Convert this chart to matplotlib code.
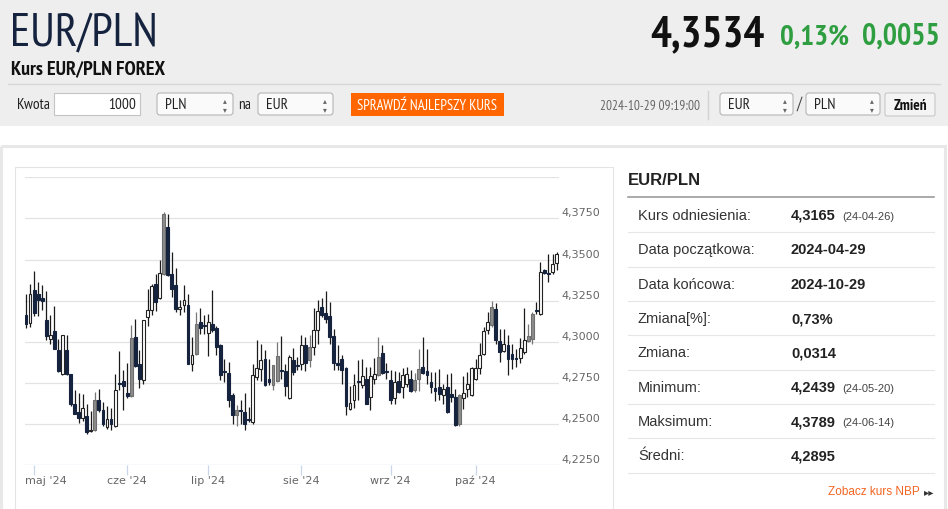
import matplotlib
matplotlib.use("Agg")
import matplotlib.pyplot as plt
import matplotlib.patches as mpatches
import matplotlib.transforms as mtrans
import numpy as np
import pandas as pd

# DATA (EUR/PLN daily candles, 2024-04-29 .. 2024-10-29)

open_ = [
    4.3164, 4.3114, 4.3316, 4.3288, 4.3268, 4.3130, 4.3015, 4.3065, 4.2948, 4.2802,
    4.2952, 4.2802, 4.2624, 4.2573, 4.2538, 4.2551, 4.2457, 4.2461, 4.2644, 4.2587,
    4.2482, 4.2532, 4.2486, 4.2751, 4.2761, 4.2688, 4.2668, 4.3029, 4.2867, 4.2769,
    4.3150, 4.3191, 4.3349, 4.3268, 4.3414, 4.3697, 4.3414, 4.3343, 4.3199, 4.3221,
    4.3225, 4.2867, 4.2927, 4.3120, 4.3100, 4.3053, 4.3106, 4.3083, 4.2978, 4.2822,
    4.2810, 4.2674, 4.2553, 4.2583, 4.2573, 4.2532, 4.2512, 4.2786, 4.2832, 4.2897,
    4.2775, 4.2735, 4.2761, 4.2826, 4.2822, 4.2660, 4.2891, 4.2857, 4.2867, 4.2978,
    4.2891, 4.2968, 4.3073, 4.3211, 4.3177, 4.3156, 4.3033, 4.2871, 4.2895, 4.2842,
    4.2591, 4.2644, 4.2761, 4.2735, 4.2775, 4.2664, 4.2775, 4.2796, 4.2932, 4.2822,
    4.2765, 4.2660, 4.2761, 4.2725, 4.2745, 4.2775, 4.2705, 4.2775, 4.2846, 4.2820,
    4.2755, 4.2719, 4.2725, 4.2674, 4.2725, 4.2680, 4.2664, 4.2502, 4.2660, 4.2715,
    4.2674, 4.2775, 4.2840, 4.2923, 4.3069, 4.3100, 4.3201, 4.3002, 4.2944, 4.2978,
    4.2923, 4.2901, 4.2903, 4.2938, 4.3004, 4.3019, 4.3195, 4.3167, 4.3438, 4.3420,
    4.3424, 4.3479,
]
high = [
    4.3292, 4.3349, 4.3430, 4.3361, 4.3345, 4.3308, 4.3164, 4.3217, 4.3019, 4.3040,
    4.3043, 4.2805, 4.2709, 4.2688, 4.2680, 4.2624, 4.2579, 4.2694, 4.2713, 4.2634,
    4.2609, 4.2599, 4.2806, 4.2942, 4.2826, 4.2871, 4.3100, 4.3136, 4.2948, 4.3134,
    4.3323, 4.3349, 4.3414, 4.3495, 4.3789, 4.3778, 4.3549, 4.3448, 4.3252, 4.3343,
    4.3292, 4.3029, 4.3181, 4.3207, 4.3160, 4.3171, 4.3312, 4.3094, 4.2988, 4.2897,
    4.2875, 4.2688, 4.2613, 4.2644, 4.2688, 4.2603, 4.2867, 4.3009, 4.2988, 4.2952,
    4.2897, 4.2861, 4.2998, 4.3035, 4.2867, 4.2917, 4.2962, 4.2907, 4.3039, 4.3029,
    4.3039, 4.3207, 4.3256, 4.3268, 4.3308, 4.3241, 4.3079, 4.2978, 4.2917, 4.2846,
    4.2729, 4.2806, 4.2887, 4.2897, 4.2846, 4.2846, 4.2903, 4.3029, 4.2978, 4.2871,
    4.2830, 4.2820, 4.2816, 4.2840, 4.2846, 4.2826, 4.2810, 4.2958, 4.3029, 4.2954,
    4.2816, 4.2816, 4.2836, 4.2745, 4.2806, 4.2812, 4.2715, 4.2680, 4.2790, 4.2816,
    4.2846, 4.2897, 4.2992, 4.3090, 4.3181, 4.3248, 4.3237, 4.3079, 4.3079, 4.3039,
    4.2988, 4.2958, 4.3023, 4.3207, 4.3110, 4.3181, 4.3241, 4.3485, 4.3444, 4.3535,
    4.3535, 4.3545,
]
low = [
    4.3085, 4.3090, 4.3154, 4.3158, 4.3191, 4.3009, 4.2988, 4.2954, 4.2816, 4.2796,
    4.2796, 4.2609, 4.2559, 4.2506, 4.2518, 4.2439, 4.2451, 4.2457, 4.2573, 4.2486,
    4.2470, 4.2466, 4.2482, 4.2705, 4.2587, 4.2660, 4.2664, 4.2846, 4.2719, 4.2745,
    4.3094, 4.3160, 4.3187, 4.3262, 4.3404, 4.3397, 4.3272, 4.3181, 4.3164, 4.3181,
    4.2863, 4.2822, 4.2917, 4.3045, 4.3049, 4.2911, 4.3059, 4.2917, 4.2769, 4.2755,
    4.2603, 4.2502, 4.2486, 4.2502, 4.2461, 4.2512, 4.2502, 4.2765, 4.2761, 4.2733,
    4.2735, 4.2709, 4.2755, 4.2775, 4.2668, 4.2654, 4.2796, 4.2826, 4.2830, 4.2822,
    4.2846, 4.2917, 4.2988, 4.3150, 4.3116, 4.2988, 4.2826, 4.2826, 4.2745, 4.2553,
    4.2583, 4.2595, 4.2648, 4.2719, 4.2622, 4.2587, 4.2745, 4.2790, 4.2806, 4.2775,
    4.2624, 4.2624, 4.2688, 4.2660, 4.2725, 4.2694, 4.2694, 4.2701, 4.2802, 4.2745,
    4.2688, 4.2640, 4.2644, 4.2624, 4.2567, 4.2634, 4.2486, 4.2490, 4.2593, 4.2664,
    4.2668, 4.2765, 4.2802, 4.2917, 4.3049, 4.3090, 4.2988, 4.2877, 4.2938, 4.2796,
    4.2836, 4.2846, 4.2871, 4.2927, 4.2998, 4.2984, 4.3167, 4.3160, 4.3414, 4.3363,
    4.3414, 4.3434,
]
close = [
    4.3110, 4.3288, 4.3175, 4.3252, 4.3248, 4.3033, 4.3039, 4.2958, 4.2822, 4.3039,
    4.2802, 4.2624, 4.2563, 4.2538, 4.2599, 4.2451, 4.2466, 4.2648, 4.2583, 4.2502,
    4.2532, 4.2498, 4.2705, 4.2745, 4.2729, 4.2668, 4.3023, 4.2850, 4.2775, 4.3130,
    4.3191, 4.3337, 4.3241, 4.3418, 4.3778, 4.3404, 4.3323, 4.3201, 4.3211, 4.3252,
    4.2867, 4.2917, 4.3106, 4.3083, 4.3094, 4.3120, 4.3069, 4.2968, 4.2796, 4.2816,
    4.2644, 4.2553, 4.2587, 4.2579, 4.2502, 4.2526, 4.2796, 4.2840, 4.2891, 4.2735,
    4.2755, 4.2857, 4.2911, 4.2820, 4.2729, 4.2907, 4.2816, 4.2853, 4.2978, 4.2871,
    4.2968, 4.3069, 4.3185, 4.3160, 4.3140, 4.3029, 4.2873, 4.2861, 4.2826, 4.2607,
    4.2628, 4.2739, 4.2755, 4.2790, 4.2624, 4.2792, 4.2806, 4.2907, 4.2810, 4.2816,
    4.2648, 4.2755, 4.2694, 4.2796, 4.2806, 4.2701, 4.2769, 4.2836, 4.2810, 4.2796,
    4.2725, 4.2701, 4.2680, 4.2715, 4.2573, 4.2664, 4.2492, 4.2674, 4.2688, 4.2745,
    4.2840, 4.2840, 4.2917, 4.3065, 4.3120, 4.3211, 4.3009, 4.2938, 4.2984, 4.2897,
    4.2897, 4.2895, 4.2964, 4.3009, 4.3033, 4.3171, 4.3187, 4.3424, 4.3418, 4.3414,
    4.3474, 4.3534,
]
# candle kind as drawn: d = dark filled, w = hollow, g = grey filled
kind = list(
    "dwddddwddw" "ddddwdwgdd" "wdwdddgddw" "wwdwgdddww" "dwgddwdddd"
    "ddgdddwwwd" "dggddwddwd" "gwwddddddd" "wwdwdwwgdd" "dwdwwdggdd"
    "dddwdddgww" "wwwwwgddwd" "ddwwggdwdd" "ww"
)

start_date = "2024-04-29"
end_date = "2024-10-29"
month_labels = ["maj '24", "cze '24", "lip '24", "sie '24", "wrz '24", "paź '24"]
y_levels = [4.225, 4.250, 4.275, 4.300, 4.325, 4.350, 4.375, 4.400]

pair = "EUR/PLN"
last_price = "4,3534"
change_pct = "0,13%"
change_abs = "0,0055"
timestamp = "2024-10-29 09:19:00"

row_labels = ["Kurs odniesienia:", "Data początkowa:", "Data końcowa:", "Zmiana[%]:",
              "Zmiana:", "Minimum:", "Maksimum:", "Średni:"]
row_values = ["4,3165", "2024-04-29", "2024-10-29", "0,73%", "0,0314",
              "4,2439", "4,3789", "4,2895"]
row_dates = ["(24-04-26)", "", "", "", "", "(24-05-20)", "(24-06-14)", ""]

# FONTS / COLOURS

NARROW = ["PT Sans Narrow", "Archivo Narrow", "Liberation Sans", "DejaVu Sans"]
ARIAL = ["Liberation Sans", "DejaVu Sans"]
NAVY = "#15233f"
GREEN = "#2f9e41"
ORANGE = "#ff6600"

# FIGURE

W, H = 948, 510
fig = plt.figure(figsize=(W / 100, H / 100), dpi=100)
fig.patch.set_facecolor("white")

bg = fig.add_axes([0, 0, 1, 1])
bg.set_xlim(0, W)
bg.set_ylim(H, 0)
bg.axis("off")

# header band
bg.add_patch(mpatches.Rectangle((0, 0), W, 127, fc="#eeeeee", ec="none"))
bg.plot([8, 940], [85, 85], color="#d6d6d6", lw=1)

bg.text(10, 46, pair, family=NARROW, fontsize=34, color=NAVY, va="baseline")
bg.text(11, 74, "Kurs EUR/PLN FOREX", family=NARROW, fontsize=14.5,
        fontweight="bold", color="#111111", va="baseline")
bg.text(765, 46, last_price, family=NARROW, fontsize=31.5, fontweight="bold",
        color="#111111", va="baseline", ha="right")
bg.text(780, 45, change_pct, family=NARROW, fontsize=21, fontweight="bold",
        color=GREEN, va="baseline")
bg.text(940, 45, change_abs, family=NARROW, fontsize=21.5, fontweight="bold",
        color=GREEN, va="baseline", ha="right")


def select_box(x, w, label):
    bg.add_patch(mpatches.FancyBboxPatch((x, 94), w, 22,
                                         boxstyle="round,pad=0,rounding_size=3",
                                         fc="#fafafa", ec="#b5b5b5", lw=0.8))
    bg.text(x + 8, 105, label, family=NARROW, fontsize=11, color="#222222",
            va="center")
    bg.text(x + w - 8, 105, "▴\n▾", family=["DejaVu Sans"], fontsize=5.5,
            color="#666666", ha="center", va="center", linespacing=0.95)


# controls row
bg.text(17, 105, "Kwota", family=NARROW, fontsize=11, color="#222222", va="center")
bg.add_patch(mpatches.Rectangle((54, 94), 86, 22, fc="white", ec="#c4c4c4", lw=0.8))
bg.text(136, 105, "1000", family=NARROW, fontsize=11, color="#222222",
        va="center", ha="right")
select_box(157, 76, "PLN")
bg.text(238, 105, "na", family=NARROW, fontsize=11, color="#222222", va="center")
select_box(258, 75, "EUR")
bg.add_patch(mpatches.Rectangle((351, 94), 153, 23, fc=ORANGE, ec="none"))
bg.text(427.5, 105.5, "SPRAWDŹ NAJLEPSZY KURS", family=NARROW, fontsize=10.5,
        color="white", va="center", ha="center")
bg.text(600, 106, timestamp, family=NARROW, fontsize=9.5, color="#666666", va="center")
bg.plot([708, 708], [92, 120], color="#d2d2d2", lw=1)
select_box(720, 73, "EUR")
bg.text(799.5, 105, "/", family=NARROW, fontsize=12.5, color="#444444",
        va="center", ha="center")
select_box(806, 74, "PLN")
bg.add_patch(mpatches.FancyBboxPatch((885, 94), 50, 23,
                                     boxstyle="round,pad=0,rounding_size=2",
                                     fc="#f4f4f4", ec="#c8c8c8", lw=0.8))
bg.text(910, 106, "Zmień", family=NARROW, fontsize=11, fontweight="bold",
        color="#111111", va="center", ha="center")

# content panels
bg.add_patch(mpatches.Rectangle((1.5, 146.5), W - 4, 400, fc="none",
                                ec="#e8e8e8", lw=2.2))
bg.add_patch(mpatches.Rectangle((15, 168), 598, 400, fc="white", ec="#e4e4e4", lw=0.8))

# info table
bg.text(628, 181, pair, family=ARIAL, fontsize=12, fontweight="bold",
        color="#222222", va="center")
bg.plot([628, 934], [197.7, 197.7], color="#9c9c9c", lw=1.2)
row_step = 34.35
for k, (lab, val, dt) in enumerate(zip(row_labels, row_values, row_dates)):
    yc = 216 + k * row_step
    bg.text(638, yc, lab, family=ARIAL, fontsize=10.5, color="#333333", va="center")
    bg.text(791, yc, val, family=ARIAL, fontsize=10.5, fontweight="bold",
            color="#222222", va="center")
    if dt:
        bg.text(842, yc + 1, dt, family=ARIAL, fontsize=8, color="#444444",
                va="center")
    bg.plot([628, 934], [yc + 17.3, yc + 17.3], color="#e6e6e6", lw=0.8)
bg.text(920, 492, "Zobacz kurs NBP", family=ARIAL, fontsize=8.5, color="#f26522",
        va="center", ha="right")
bg.text(929, 492.5, "▸▸", family=["DejaVu Sans"], fontsize=7.5, color="#333333",
        va="center", ha="center")

# CANDLESTICK CHART

dates = pd.bdate_range(start_date, end_date)
x = np.arange(len(dates))
o = np.array(open_)
c = np.array(close)
hi = np.array(high)
lo = np.array(low)

ax = fig.add_axes([25 / W, 1 - 466 / H, 533.5 / W, (466 - 178.4) / H])
ax.set_facecolor("none")
for s in ax.spines.values():
    s.set_visible(False)

ax.set_xlim(-0.25, 131.48)
ax.set_ylim(y_levels[0], y_levels[-1])
for v in y_levels[1:]:
    ax.axhline(v, color="#e3e3e3", lw=0.9, zorder=1)
ax.axhline(y_levels[0], color="#ccd6eb", lw=0.9, zorder=1)

fill_map = {"d": NAVY, "w": "white", "g": "#8c8c8c"}
edge_map = {"d": NAVY, "w": "#222222", "g": "#6e6e6e"}
wick_map = {"d": "#1a1a1a", "w": "#1a1a1a", "g": "#777777"}

ax.vlines(x, lo, hi, colors=[wick_map[k] for k in kind], lw=0.9, zorder=2)
body_lo = np.minimum(o, c)
body_h = np.maximum(np.abs(c - o), 0.0002)
ax.bar(x, body_h, bottom=body_lo, width=0.7,
       color=[fill_map[k] for k in kind],
       edgecolor=[edge_map[k] for k in kind], lw=0.8, zorder=3)

# month ticks on the first trading day of each month
month_start = [i for i in range(1, len(dates)) if dates[i].month != dates[i - 1].month]
ax.set_xticks(month_start)
ax.set_xticklabels([])
ax.tick_params(axis="x", length=7, width=0.9, color="#ccd6eb", direction="out")
ax.set_yticks([])

lab_tr = mtrans.offset_copy(ax.get_xaxis_transform(), fig=fig, x=0, y=-15,
                            units="dots")
for n, (pos, lab) in enumerate(zip(month_start, month_labels)):
    if n == 0:
        ax.text(ax.get_xlim()[0], 0, lab, transform=lab_tr, ha="left",
                va="center", fontsize=8, color="#666666", family=["DejaVu Sans"])
    else:
        ax.text(pos, 0, lab, transform=lab_tr, ha="center", va="center",
                fontsize=8, color="#666666", family=["DejaVu Sans"])

ylab_tr = mtrans.offset_copy(ax.get_yaxis_transform(), fig=fig, x=2.5, y=6,
                             units="dots")
for v in y_levels[:-1]:
    ax.text(1, v, f"{v:.4f}".replace(".", ","), transform=ylab_tr, ha="left",
            va="center", fontsize=8, color="#666666", family=["DejaVu Sans"])

fig.savefig("out.png", dpi=100)
